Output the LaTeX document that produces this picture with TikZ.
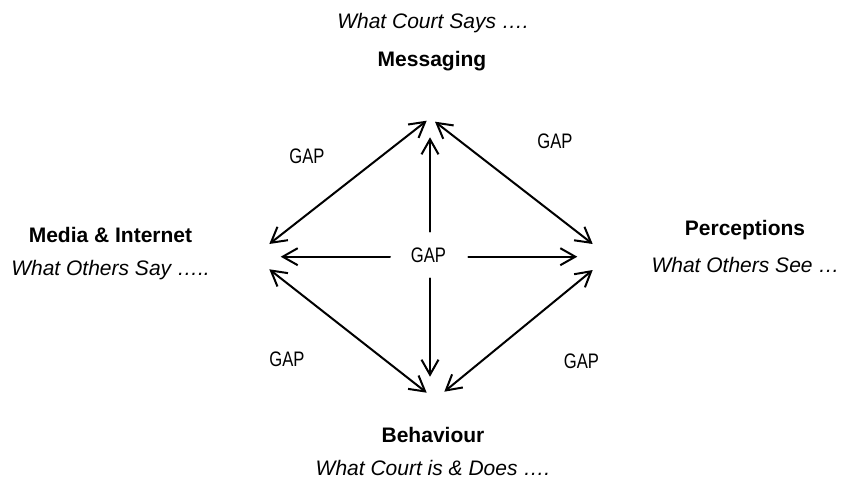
\documentclass[tikz,border=0pt]{standalone}
\usepackage{fontspec}
\setmainfont{Liberation Sans}
\newfontfamily\narrowfont{Liberation Sans}[FakeStretch=0.79]
\usetikzlibrary{arrows.meta}
\begin{document}
\begin{tikzpicture}[x=1pt,y=-1pt,
  lbl/.style={anchor=base,inner sep=0pt,font=\fontsize{21}{25}\selectfont\bfseries},
  sub/.style={anchor=base,inner sep=0pt,font=\fontsize{21}{25}\selectfont\itshape},
  gap/.style={anchor=base,inner sep=0pt,font=\fontsize{21}{25}\selectfont\narrowfont},
  link/.style={line width=2pt,line cap=round,
    arrows={Straight Barb[length=15pt,width=17pt,line width=2pt]-Straight Barb[length=15pt,width=17pt,line width=2pt]}},
  one/.style={line width=2pt,line cap=round,
    arrows={-Straight Barb[length=15pt,width=17pt,line width=2pt]}}]
\useasboundingbox (0,0) rectangle (841,479);
% labels
\node[sub] (saysub) at (433,28) {What Court Says ….};
\node[lbl] (msg) at (432,66) {Messaging};
\node[lbl] (media) at (110.5,242) {Media \& Internet};
\node[sub] (mediasub) at (110.5,275) {What Others Say …..};
\node[lbl] (perc) at (745,235) {Perceptions};
\node[sub] (percsub) at (745.5,272) {What Others See …};
\node[lbl] (beh) at (433,442) {Behaviour};
\node[sub] (behsub) at (433,475) {What Court is \& Does ….};
% gap labels
\node[gap] (gc) at (428.5,262) {GAP};
\node[gap] (gul) at (307,163) {GAP};
\node[gap] (gur) at (555,148) {GAP};
\node[gap] (gll) at (287,366.5) {GAP};
\node[gap] (glr) at (581.5,368) {GAP};
% arrow end points
\coordinate (mL) at (426.7,120.7);
\coordinate (mR) at (435,121.7);
\coordinate (mC) at (430,137.3);
\coordinate (iU) at (269.3,244);
\coordinate (iC) at (280.7,256.7);
\coordinate (iD) at (269.3,269.3);
\coordinate (pU) at (592.7,244);
\coordinate (pC) at (577.3,256.7);
\coordinate (pD) at (592.7,270);
\coordinate (bL) at (426.7,392.7);
\coordinate (bR) at (444.3,391.7);
\coordinate (bC) at (430,376.7);
\coordinate (cU) at (430,231.7);
\coordinate (cL) at (390,256.7);
\coordinate (cR) at (468.3,256.7);
\coordinate (cD) at (430,278.3);
% connectors
\draw[link] (iU) -- (mL);
\draw[link] (mR) -- (pU);
\draw[link] (iD) -- (bL);
\draw[link] (pD) -- (bR);
\draw[one] (cU) -- (mC);
\draw[one] (cL) -- (iC);
\draw[one] (cR) -- (pC);
\draw[one] (cD) -- (bC);
\end{tikzpicture}
\end{document}
